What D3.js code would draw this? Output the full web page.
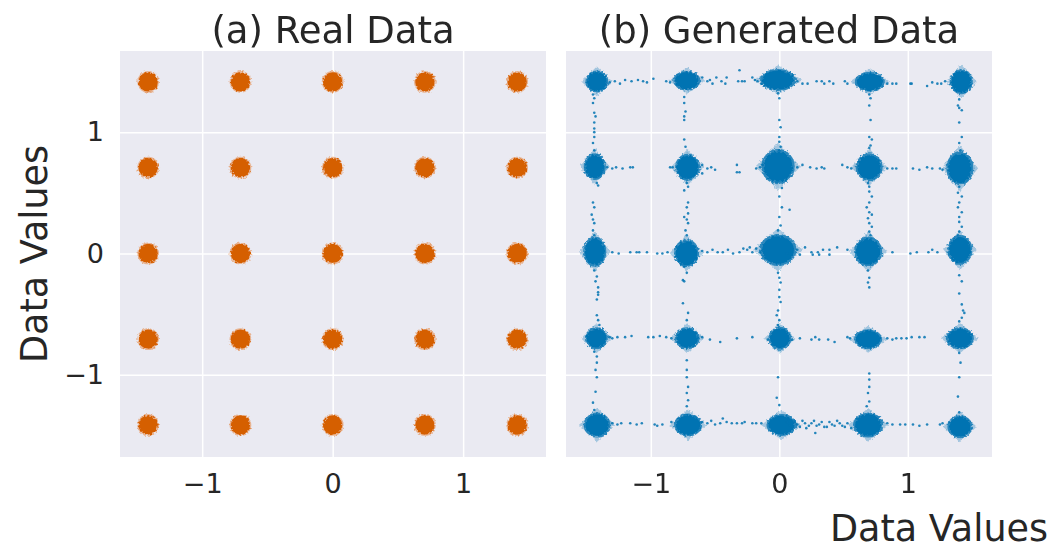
<!DOCTYPE html>
<html>
<head>
<meta charset="utf-8">
<script src="https://cdn.jsdelivr.net/npm/d3@7"></script>
<style>
  body { margin: 0; background: #fff; }
  svg { display: block; }
  text { font-family: "DejaVu Sans", sans-serif; fill: #262626; }
</style>
</head>
<body>
<svg id="chart" width="1056" height="549"></svg>
<script>
// Mixture centres of the 5x5 grid (both axes)
const gridValues = [-1.414, -0.707, 0, 0.707, 1.414];
// Spread (radius, data units) of each real-data cluster
const realSpread = 0.074;

// Axis ticks
const tickValues = [-1, 0, 1];
const tickLabels = ["\u22121", "0", "1"];

// Generated-data clusters: [x, y, rx, ry] (centre and half extent, data units)
const genClusters = [
  [-1.42, 1.418, 0.089, 0.091], [-0.72, 1.425, 0.105, 0.082], [-0.01, 1.43, 0.140, 0.090], [0.704, 1.416, 0.117, 0.082], [1.416, 1.416, 0.090, 0.103],
  [-1.436, 0.716, 0.086, 0.111], [-0.714, 0.711, 0.097, 0.111], [-0.01, 0.716, 0.130, 0.145], [0.699, 0.711, 0.105, 0.115], [1.405, 0.702, 0.105, 0.140],
  [-1.436, 0.015, 0.090, 0.124], [-0.722, 0.002, 0.097, 0.115], [-0.01, 0.029, 0.144, 0.132], [0.691, 0.015, 0.109, 0.124], [1.405, 0.029, 0.097, 0.124],
  [-1.423, -0.699, 0.089, 0.091], [-0.717, -0.699, 0.097, 0.091], [0.004, -0.699, 0.089, 0.095], [0.691, -0.707, 0.109, 0.082], [1.405, -0.699, 0.109, 0.091],
  [-1.418, -1.414, 0.105, 0.103], [-0.71, -1.414, 0.109, 0.095], [0.017, -1.414, 0.117, 0.091], [0.691, -1.414, 0.117, 0.103], [1.405, -1.428, 0.097, 0.095]
];

// Generated samples that fall between the modes: [x, y]
const genStray = [
  // top row
  [-1.32,1.41],[-1.28,1.42],[-1.24,1.40],[-1.20,1.43],[-1.15,1.42],[-1.10,1.43],[-1.06,1.42],[-1.03,1.41],[-0.98,1.44],[-0.88,1.42],[-0.85,1.41],
  [-0.60,1.45],[-0.56,1.42],[-0.54,1.43],[-0.52,1.40],[-0.49,1.45],[-0.45,1.42],[-0.42,1.40],[-0.41,1.45],[-0.31,1.51],[-0.32,1.42],[-0.29,1.42],[-0.27,1.42],[-0.21,1.45],[-0.19,1.43],[-0.17,1.42],[-0.14,1.40],
  [0.14,1.42],[0.18,1.40],[0.22,1.40],[0.29,1.42],[0.33,1.42],[0.35,1.40],[0.39,1.42],[0.42,1.40],[0.51,1.42],[0.53,1.40],
  [0.84,1.40],[0.88,1.40],[0.91,1.40],[1.02,1.40],[1.03,1.40],[1.15,1.38],[1.19,1.41],[1.23,1.40],[1.26,1.40],[1.29,1.42],
  // column x = -1.414
  [-1.45,1.31],[-1.44,1.28],[-1.45,1.24],[-1.44,1.16],[-1.43,1.13],[-1.44,1.08],[-1.44,1.03],[-1.44,1.00],[-1.44,0.96],[-1.45,0.91],[-1.44,0.85],
  [-1.42,0.58],[-1.41,0.56],[-1.45,0.42],[-1.44,0.38],[-1.46,0.32],[-1.45,0.28],[-1.44,0.25],[-1.45,0.19],[-1.44,0.15],
  [-1.44,-0.14],[-1.42,-0.19],[-1.43,-0.23],[-1.41,-0.28],[-1.41,-0.32],[-1.41,-0.34],[-1.42,-0.38],[-1.42,-0.51],[-1.41,-0.55],[-1.40,-0.59],
  [-1.44,-0.81],[-1.42,-0.85],[-1.42,-0.90],[-1.43,-0.96],[-1.42,-1.02],[-1.43,-1.14],[-1.45,-1.23],[-1.44,-1.29],
  // column x = -0.707
  [-0.74,1.29],[-0.74,1.24],[-0.73,1.17],[-0.74,1.13],[-0.74,1.10],[-0.74,0.94],[-0.73,0.88],
  [-0.72,0.58],[-0.71,0.55],[-0.74,0.52],[-0.71,0.42],[-0.72,0.38],[-0.71,0.33],[-0.74,0.30],[-0.72,0.28],[-0.71,0.25],[-0.73,0.19],[-0.72,0.15],
  [-0.74,-0.11],[-0.72,-0.16],[-0.75,-0.22],[-0.74,-0.23],[-0.75,-0.41],[-0.71,-0.49],[-0.72,-0.55],
  [-0.72,-0.88],[-0.72,-0.96],[-0.72,-1.02],[-0.71,-1.10],[-0.72,-1.15],[-0.71,-1.21],[-0.72,-1.26],
  // column x = 0
  [-0.01,1.32],[0.00,1.28],[0.00,1.10],[0.01,1.04],[0.00,0.96],[0.00,0.92],[0.01,0.88],[0.00,0.85],
  [0.02,0.54],[0.00,0.47],[0.02,0.38],[0.08,0.36],[0.00,0.30],[0.01,0.23],[-0.01,0.19],
  [-0.01,-0.16],[0.00,-0.20],[0.01,-0.24],[0.00,-0.30],[0.00,-0.36],[0.01,-0.40],[-0.01,-0.47],[-0.02,-0.51],[0.00,-0.55],[-0.01,-0.59],
  [-0.01,-1.02],[-0.02,-1.19],[0.00,-1.25],
  // column x = 0.707
  [0.70,1.31],[0.71,1.28],[0.70,1.22],[0.71,1.10],[0.70,0.96],[0.72,0.94],[0.71,0.89],[0.70,0.87],
  [0.69,0.58],[0.70,0.55],[0.70,0.51],[0.72,0.47],[0.70,0.42],[0.68,0.38],[0.70,0.34],[0.72,0.32],[0.69,0.29],[0.70,0.25],[0.72,0.22],[0.70,0.18],[0.71,0.15],
  [0.69,-0.14],[0.70,-0.20],[0.69,-0.24],[0.70,-0.28],
  [0.70,-0.99],[0.70,-1.04],[0.70,-1.10],[0.69,-1.15],[0.70,-1.22],[0.68,-1.26],
  // column x = 1.414
  [1.40,1.27],[1.39,1.22],[1.40,1.20],[1.42,1.18],[1.40,1.08],[1.42,0.96],[1.40,0.91],[1.41,0.85],
  [1.40,0.55],[1.39,0.50],[1.42,0.47],[1.40,0.42],[1.39,0.38],[1.42,0.34],[1.40,0.30],[1.40,0.26],[1.42,0.22],[1.40,0.18],[1.39,0.15],
  [1.40,-0.18],[1.42,-0.23],[1.40,-0.33],[1.42,-0.42],[1.43,-0.47],[1.44,-0.49],[1.42,-0.53],[1.40,-0.56],
  [1.40,-0.82],[1.41,-0.90],[1.40,-1.02],[1.39,-1.18],[1.40,-1.31],
  // row y = 0.707
  [-1.34,0.71],[-1.30,0.70],[-1.27,0.71],[-1.22,0.70],[-1.16,0.71],[-1.14,0.71],[-0.85,0.71],[-0.83,0.71],
  [-0.60,0.73],[-0.56,0.70],[-0.53,0.71],[-0.50,0.69],[-0.60,0.66],[-0.33,0.73],[-0.33,0.67],[-0.31,0.67],[-0.18,0.70],[-0.15,0.71],[-0.13,0.73],
  [0.14,0.71],[0.18,0.73],[0.24,0.71],[0.29,0.70],[0.33,0.71],[0.35,0.70],[0.49,0.73],[0.53,0.71],[0.56,0.70],
  [0.84,0.70],[0.88,0.70],[0.91,0.70],[1.04,0.70],[1.09,0.69],[1.15,0.71],[1.19,0.70],[1.25,0.70],[1.27,0.69],
  // row y = 0
  [-1.30,0.01],[-1.25,0.00],[-1.16,0.01],[-1.11,0.01],[-1.09,0.01],[-1.03,0.01],[-0.95,0.00],[-0.91,0.00],[-0.87,0.01],
  [-0.60,0.02],[-0.56,0.01],[-0.52,0.03],[-0.48,0.01],[-0.44,0.01],[-0.40,0.03],[-0.36,0.00],[-0.31,0.01],[-0.28,0.04],[-0.25,0.03],[-0.23,0.05],[-0.21,0.01],[-0.18,0.04],[-0.15,0.01],
  [0.06,0.00],[0.14,0.03],[0.16,-0.01],[0.20,0.05],[0.25,0.01],[0.26,-0.01],[0.30,0.01],[0.31,-0.01],[0.34,0.03],[0.39,0.03],[0.39,-0.01],[0.45,0.05],[0.53,0.03],
  [0.88,0.01],[1.02,0.00],[1.07,0.01],[1.16,0.01],[1.19,0.03],[1.23,0.01],
  // row y = -0.707
  [-1.32,-0.69],[-1.30,-0.70],[-1.26,-0.69],[-1.20,-0.69],[-1.15,-0.68],[-1.02,-0.69],[-0.98,-0.69],[-0.93,-0.68],[-0.88,-0.69],[-0.84,-0.70],
  [-0.60,-0.69],[-0.54,-0.71],[-0.46,-0.73],[-0.33,-0.70],[-0.21,-0.69],[-0.09,-0.71],
  [0.10,-0.71],[0.16,-0.70],[0.25,-0.71],[0.28,-0.69],[0.31,-0.71],[0.38,-0.71],[0.43,-0.73],[0.53,-0.69],[0.55,-0.70],
  [0.84,-0.70],[0.88,-0.71],[0.91,-0.70],[0.95,-0.70],[0.99,-0.70],[1.03,-0.69],[1.09,-0.69],[1.13,-0.69],
  // row y = -1.414
  [-1.30,-1.40],[-1.26,-1.41],[-1.23,-1.40],[-1.16,-1.40],[-1.11,-1.41],[-1.07,-1.40],[-0.97,-1.41],[-0.95,-1.42],[-0.91,-1.41],[-0.84,-1.39],
  [-0.60,-1.39],[-0.56,-1.40],[-0.53,-1.38],[-0.50,-1.41],[-0.46,-1.40],[-0.44,-1.36],[-0.41,-1.39],[-0.37,-1.40],[-0.33,-1.40],[-0.29,-1.40],[-0.27,-1.39],[-0.21,-1.40],[-0.18,-1.40],[-0.14,-1.40],
  [0.06,-1.39],[0.10,-1.43],[0.14,-1.41],[0.18,-1.38],[0.21,-1.44],[0.25,-1.40],[0.29,-1.42],[0.33,-1.39],[0.37,-1.43],[0.41,-1.41],[0.45,-1.38],[0.49,-1.42],[0.53,-1.40],[0.56,-1.44],
  [0.08,-1.42],[0.12,-1.39],[0.16,-1.43],[0.20,-1.40],[0.23,-1.42],[0.27,-1.38],[0.31,-1.41],[0.35,-1.43],[0.39,-1.39],[0.43,-1.42],[0.47,-1.40],[0.51,-1.43],[0.28,-1.48],
  [0.84,-1.40],[0.88,-1.41],[0.94,-1.41],[0.98,-1.41],[1.04,-1.41],[1.09,-1.42],[1.15,-1.41],[1.25,-1.41],[1.27,-1.40]
];

const REAL_COLOR = "#d55e00";
const GEN_COLOR = "#0173b2";

const svg = d3.select("#chart");
const plotTop = 51, plotBottom = 457;

const y = d3.scaleLinear().domain([-1.678, 1.669]).range([plotBottom, plotTop]);

// rough, sample-like edge for the dense clouds
const defs = svg.append("defs");
const f = defs.append("filter").attr("id", "rough")
  .attr("x", "-10%").attr("y", "-10%").attr("width", "120%").attr("height", "120%");
f.append("feTurbulence").attr("type", "fractalNoise").attr("baseFrequency", 0.5)
  .attr("numOctaves", 2).attr("seed", 7).attr("result", "noise");
f.append("feDisplacementMap").attr("in", "SourceGraphic").attr("in2", "noise")
  .attr("scale", 4).attr("xChannelSelector", "R").attr("yChannelSelector", "G");

function panel(x0, x1, xDomain, title, showY) {
  const x = d3.scaleLinear().domain(xDomain).range([x0, x1]);
  const g = svg.append("g");
  g.append("rect").attr("x", x0).attr("y", plotTop).attr("width", x1 - x0).attr("height", plotBottom - plotTop)
    .attr("fill", "#eaeaf2");

  const xAxis = g.append("g").attr("transform", `translate(0,${plotBottom})`)
    .call(d3.axisBottom(x).tickValues(tickValues).tickFormat((d, i) => tickLabels[i])
      .tickSize(-(plotBottom - plotTop)).tickPadding(17));
  const yAxis = g.append("g").attr("transform", `translate(${x0},0)`)
    .call(d3.axisLeft(y).tickValues(tickValues).tickFormat((d, i) => showY ? tickLabels[i] : "")
      .tickSize(-(x1 - x0)).tickPadding(16));
  [xAxis, yAxis].forEach(a => {
    a.select(".domain").remove();
    a.selectAll(".tick line").attr("stroke", "#fff").attr("stroke-width", 1.5);
    a.selectAll(".tick text").attr("font-size", 27).attr("fill", "#262626")
      .attr("font-family", "DejaVu Sans, sans-serif");
  });

  svg.append("text").attr("x", (x0 + x1) / 2).attr("y", 43).attr("text-anchor", "middle")
    .attr("font-size", 37).text(title);
  return { x, g };
}

// (a) real data
const A = panel(120, 546, [-1.63, 1.635], "(a) Real Data", true);
const realPts = gridValues.flatMap(gy => gridValues.map(gx => [gx, gy]));
const rA = A.x(realSpread) - A.x(0);
const realG = A.g.append("g").attr("filter", "url(#rough)");
realG.selectAll("circle.halo").data(realPts).join("circle").attr("class", "halo")
  .attr("cx", d => A.x(d[0])).attr("cy", d => y(d[1])).attr("r", rA + 1.2)
  .attr("fill", "#e58540").attr("opacity", 0.55);
realG.selectAll("circle.core").data(realPts).join("circle").attr("class", "core")
  .attr("cx", d => A.x(d[0])).attr("cy", d => y(d[1])).attr("r", rA)
  .attr("fill", REAL_COLOR);

// (b) generated data
const B = panel(566, 992, [-1.66, 1.655], "(b) Generated Data", false);
const genG = B.g.append("g").attr("filter", "url(#rough)");
const sx = d => B.x(d) - B.x(0);
const sy = d => y(0) - y(d);
genG.selectAll("path.star").data(genClusters).join("path").attr("class", "star")
  .attr("d", d => {
    const cx = B.x(d[0]), cy = y(d[1]), ax = sx(d[2]) * 1.35, ay = sy(d[3]) * 1.35;
    return `M${cx - ax},${cy}L${cx},${cy - ay}L${cx + ax},${cy}L${cx},${cy + ay}Z`;
  })
  .attr("fill", GEN_COLOR).attr("opacity", 0.3);
genG.selectAll("ellipse.halo").data(genClusters).join("ellipse").attr("class", "halo")
  .attr("cx", d => B.x(d[0])).attr("cy", d => y(d[1]))
  .attr("rx", d => sx(d[2])).attr("ry", d => sy(d[3]))
  .attr("fill", GEN_COLOR).attr("opacity", 0.75);
genG.selectAll("ellipse.core").data(genClusters).join("ellipse").attr("class", "core")
  .attr("cx", d => B.x(d[0])).attr("cy", d => y(d[1]))
  .attr("rx", d => sx(d[2]) * 0.86).attr("ry", d => sy(d[3]) * 0.86)
  .attr("fill", GEN_COLOR);
B.g.append("g").selectAll("circle").data(genStray).join("circle")
  .attr("cx", d => B.x(d[0])).attr("cy", d => y(d[1])).attr("r", 1.3)
  .attr("fill", GEN_COLOR).attr("opacity", 0.85);

// axis labels
svg.append("text").attr("transform", `translate(47,${(plotTop + plotBottom) / 2}) rotate(-90)`)
  .attr("text-anchor", "middle").attr("font-size", 36.5).text("Data Values");
svg.append("text").attr("x", 1048).attr("y", 541).attr("text-anchor", "end")
  .attr("font-size", 36.5).text("Data Values");
</script>
</body>
</html>
